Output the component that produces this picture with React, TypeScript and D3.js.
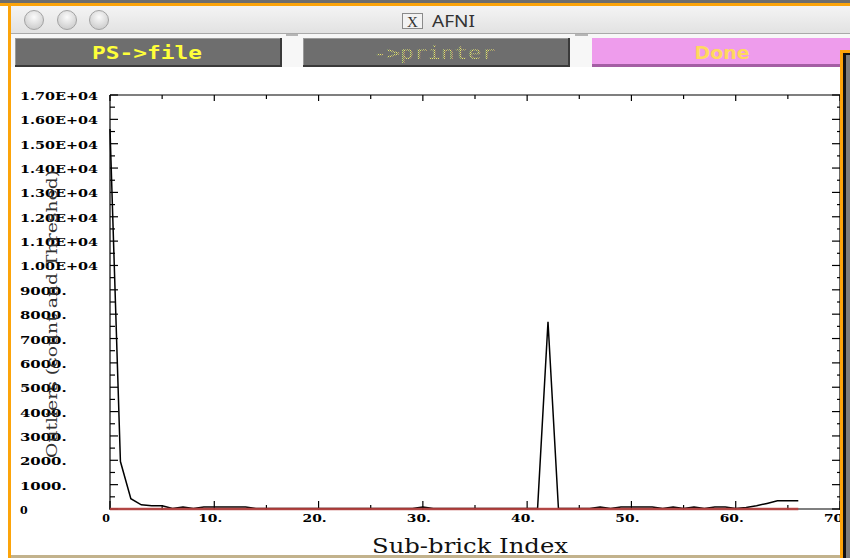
import React from 'react'
import { scaleLinear, line, range } from 'd3'

// outlier count per sub-brick (index 0..66)
const outlierCounts = [
  15600, 1950, 420, 170, 135, 135, 20, 80, 20, 80,
  80, 80, 80, 80, 20, 20, 20, 20, 20, 20,
  20, 20, 20, 20, 20, 20, 20, 20, 20, 20,
  80, 20, 20, 20, 20, 20, 20, 20, 20, 20,
  20, 20, 7690, 20, 20, 20, 20, 80, 20, 80,
  80, 80, 80, 20, 80, 20, 80, 20, 80, 80,
  20, 60, 130, 230, 340, 340, 340,
]

// red reference line: from first to last sub-brick
const thresholdIndex = [0, 66]
const thresholdValue = [0, 0]

const xTickValues = [0, 10, 20, 30, 40, 50, 60, 70]
const xTickLabels = ['0', '10.', '20.', '30.', '40.', '50.', '60.', '70.']
const yTickValues = [17000, 16000, 15000, 14000, 13000, 12000, 11000, 10000, 9000, 8000, 7000, 6000, 5000, 4000, 3000, 2000, 1000, 0]
const yTickLabels = [
  '1.70E+04', '1.60E+04', '1.50E+04', '1.40E+04', '1.30E+04', '1.20E+04', '1.10E+04', '1.00E+04',
  '9000.', '8000.', '7000.', '6000.', '5000.', '4000.', '3000.', '2000.', '1000.', '0',
]

const W = 850
const H = 558
const left = 110
const right = 840
const top = 95
const bottom = 509

const ORANGE = '#fca40a'

// rough width of the stretched plot font
let labelWidth = (s: string) =>
  s.split('').reduce((w, c) => w + (c === '.' ? 5.5 : c === 'E' || c === '+' ? 10.5 : 10.3), 0)

const App = () => {
  let x = scaleLinear().domain([0, 70]).range([left, right])
  let y = scaleLinear().domain([0, 17000]).range([bottom, top])

  let countLine = line<number>()
    .x((d, i) => x(i))
    .y(d => y(d))

  let redLine = line<number>()
    .x((d, i) => x(thresholdIndex[i]))
    .y(d => y(d))

  let yMinor = range(0, 17001, 500)
  let xMinor = range(0, 71, 5)

  let labelFont = { fontFamily: 'DejaVu Serif', fontWeight: 700, fontSize: 11 }

  return (
    <svg width={W} height={H} style={{ position: 'absolute', left: 0, top: 0 }}>
      <defs>
        <linearGradient id="titlebar" x1="0" y1="0" x2="0" y2="1">
          <stop offset="0" stopColor="#f4f4f4" />
          <stop offset="1" stopColor="#e2e2e2" />
        </linearGradient>
        <radialGradient id="dot" cx="0.5" cy="0.35" r="0.6">
          <stop offset="0" stopColor="#fbfbfb" />
          <stop offset="1" stopColor="#cfcfcf" />
        </radialGradient>
        <pattern id="stipple" width="2" height="2" patternUnits="userSpaceOnUse">
          <rect width="1" height="1" fill="#e6e66a" />
          <rect x="1" y="1" width="1" height="1" fill="#b8b870" />
        </pattern>
      </defs>

      {/* window frame */}
      <rect width={W} height={H} fill="#ffffff" />
      <rect x={0} y={0} width={W} height={3} fill="#6e6e6e" />
      <rect x={0} y={3} width={W} height={3} fill={ORANGE} />
      <rect x={8} y={3} width={3} height={H} fill={ORANGE} />
      <rect x={11} y={6} width={W - 11} height={27} fill="url(#titlebar)" />
      <rect x={11} y={33} width={W - 11} height={1} fill="#a9a9a9" />
      {[34, 67, 99].map(cx => (
        <circle key={cx} cx={cx} cy={20} r={9.5} fill="url(#dot)" stroke="#a3a3a3" strokeWidth={1} />
      ))}
      <rect x={402.5} y={13.5} width={20} height={15} fill="#f2f2f2" stroke="#8a8a8a" />
      <text x={412.5} y={26.5} textAnchor="middle" fontFamily="Liberation Serif" fontSize={15} fill="#333">X</text>
      <text x={432} y={27} fontFamily="Noto Sans" fontSize={16} fill="#333" textLength={43} lengthAdjust="spacingAndGlyphs">AFNI</text>

      {/* button row */}
      <rect x={11} y={34} width={W - 11} height={33} fill="#f7f7f7" />
      <rect x={286} y={34} width={12} height={2} fill="#b5b5b5" />
      <rect x={575} y={34} width={13} height={2} fill="#b5b5b5" />

      <rect x={15} y={38} width={267} height={29} fill="#3a3a3a" />
      <rect x={15} y={38} width={265} height={27} fill="#9a9a9a" />
      <rect x={16} y={39} width={264} height={26} fill="#6e6e6e" />
      <text x={92} y={59} fontFamily="DejaVu Sans Mono" fontWeight={700} fontSize={18} fill="#ffff3a" textLength={110} lengthAdjust="spacingAndGlyphs">PS-&gt;file</text>

      <rect x={303} y={38} width={267} height={29} fill="#3a3a3a" />
      <rect x={303} y={38} width={265} height={27} fill="#9a9a9a" />
      <rect x={304} y={39} width={264} height={26} fill="#6e6e6e" />
      <text x={373} y={59} fontFamily="DejaVu Sans Mono" fontSize={18} fill="url(#stipple)" textLength={122} lengthAdjust="spacingAndGlyphs">-&gt;printer</text>

      <rect x={592} y={38} width={W - 592} height={29} fill="#a45ea4" />
      <rect x={592} y={38} width={W - 592} height={26} fill="#ee9cec" />
      <text x={722} y={59} textAnchor="middle" fontFamily="DejaVu Sans" fontWeight={700} fontSize={17} fill="#ffd95e" textLength={55} lengthAdjust="spacingAndGlyphs">Done</text>

      {/* plot frame */}
      <line x1={left} x2={right} y1={top} y2={top} stroke="#000" strokeWidth={1.2} />
      <line x1={left} x2={left} y1={top} y2={bottom} stroke="#000" strokeWidth={1.2} />
      <line x1={right} x2={right} y1={top} y2={bottom} stroke="#000" strokeWidth={1.2} />
      <line x1={left} x2={right} y1={bottom} y2={bottom} stroke="#000" strokeWidth={1.2} />

      {yMinor.map(v => {
        let major = v % 1000 === 0
        return (
          <g key={'y' + v}>
            <line x1={left} x2={left + (major ? 8 : 5)} y1={y(v)} y2={y(v)} stroke="#000" strokeWidth={1.2} />
            <line x1={right} x2={right - (major ? 8 : 3)} y1={y(v)} y2={y(v)} stroke="#000" strokeWidth={1.2} />
          </g>
        )
      })}
      {xMinor.map(v => {
        let major = v % 10 === 0
        return (
          <g key={'x' + v}>
            <line x1={x(v)} x2={x(v)} y1={bottom + 1} y2={bottom - (major ? 8 : 4)} stroke="#000" strokeWidth={1.2} />
            <line x1={x(v)} x2={x(v)} y1={top} y2={top + (major ? 6 : 4)} stroke="#000" strokeWidth={1.2} />
          </g>
        )
      })}

      {/* data */}
      <path d={countLine(outlierCounts) ?? ''} fill="none" stroke="#000" strokeWidth={1.5} />
      <path d={redLine(thresholdValue) ?? ''} fill="none" stroke="#b8403e" strokeWidth={2.6} opacity={0.9} />

      {/* tick labels */}
      {yTickValues.map((v, i) => {
        let s = yTickLabels[i]
        return (
          <text key={'yl' + v} x={20} y={y(v) + 5} {...labelFont} fill="#000"
            textLength={s.length > 1 ? labelWidth(s) : undefined} lengthAdjust="spacingAndGlyphs">{s}</text>
        )
      })}
      {xTickValues.map((v, i) => {
        let s = xTickLabels[i]
        return (
          <text key={'xl' + v} x={x(v) - 4} y={522} textAnchor="middle" {...labelFont} fill="#000"
            textLength={s.length > 1 ? labelWidth(s) - 2 : undefined} lengthAdjust="spacingAndGlyphs">{s}</text>
        )
      })}

      {/* axis titles */}
      <text x={372} y={553} fontFamily="DejaVu Serif" fontSize={20} fill="#111" textLength={196} lengthAdjust="spacingAndGlyphs">Sub-brick Index</text>
      <text transform="translate(57,314) rotate(-90)" textAnchor="middle" fontFamily="DejaVu Serif" fontSize={14} fill="#333"
        textLength={288} lengthAdjust="spacingAndGlyphs">Outliers (count and Threshed)</text>

      {/* window bottom edge */}
      <rect x={11} y={555} width={W - 11} height={3} fill="#c2b28c" />

      {/* overlapping window on the right */}
      <rect x={840} y={50} width={10} height={H - 50} fill={ORANGE} />
      <rect x={843} y={53} width={7} height={H - 53} fill="#111" />
      <rect x={846} y={55} width={4} height={H - 55} fill="#7b7b7b" />
    </svg>
  )
}

export default App
